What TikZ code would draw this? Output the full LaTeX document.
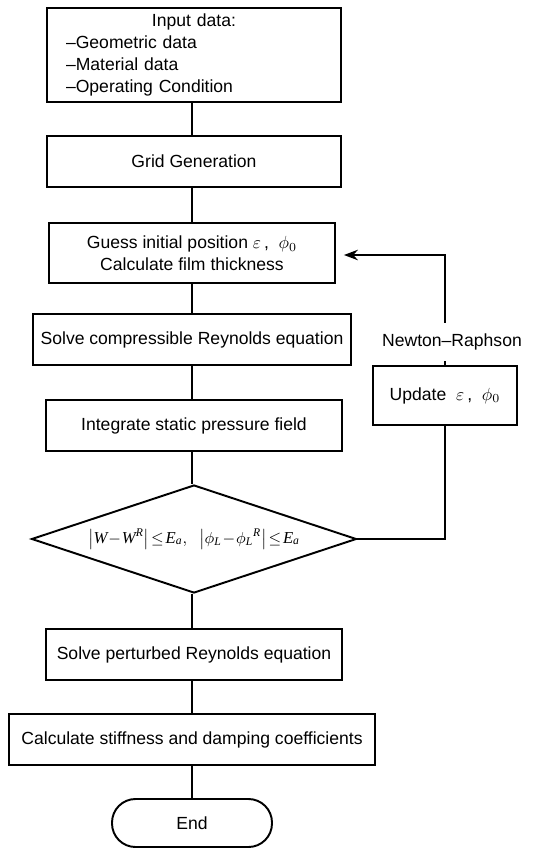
\documentclass[tikz,border=0pt]{standalone}
\usepackage{amsmath, amssymb}
\usepackage{fontspec}
\setmainfont{Liberation Sans}
\newfontfamily\tms{Liberation Serif}
\newcommand{\vi}[1]{\text{\tms\itshape #1}}
\usepackage{tikz}
\usetikzlibrary{arrows.meta, positioning, calc, shapes.geometric}

\begin{document}
\begin{tikzpicture}[x=0.02cm, y=-0.02cm, >=Stealth, line width=1.1pt,
      every node/.style={font=\fontsize{10}{12.4}\selectfont},
      box/.style={draw, rectangle, inner sep=0pt, minimum height=1.02cm}]
    \useasboundingbox (0,0) rectangle (532,849);
    \node[box, minimum width=5.88cm, minimum height=1.88cm, text width=5.12cm,
      align=left] (input) at (194,55)
      {\makebox[5.12cm]{Input data:}\\ \textendash Geometric data\\
       \textendash Material data\\ \textendash Operating Condition};
    \node[box, minimum width=5.88cm] (grid) at (194,161.5) {Grid Generation};
    \node[box, minimum width=5.72cm, minimum height=1.2cm, align=center]
      (guess) at (192,253)
      {Guess initial position $\varepsilon$\,,\ \ $\phi_{0}$\\
       Calculate film thickness};
    \node[box, minimum width=6.36cm] (solve) at (192,339.5)
      {Solve compressible Reynolds equation};
    \node[box, minimum width=5.92cm] (integ) at (194,425.5)
      {Integrate static pressure field};
    \node[draw, diamond, aspect=3, inner sep=0pt, minimum width=6.5cm,
      minimum height=2.16cm,
      label={[font=\fontsize{9.5}{12}\selectfont]center:%
        $\bigl|\vi{W}\!-\!\vi{W}^{\vi{R}}\bigr|\!\le\! \vi{E}_{\vi{a}},\ \
         \bigl|\phi_{\vi{L}}\!-\!\phi_{\vi{L}}{}^{\vi{R}}\bigr|\!\le\!
         \vi{E}_{\vi{a}}$}]
      (conv) at (194,539) {};
    \node[box, minimum width=5.92cm] (pert) at (194,654.5)
      {Solve perturbed Reynolds equation};
    \node[box, minimum width=7.32cm] (coef) at (192,739.5)
      {Calculate stiffness and damping coefficients};
    \node[draw, rectangle, rounded corners=0.47cm, minimum width=3.2cm,
      minimum height=0.96cm] (end) at (192,823) {End};
    \node[box, minimum width=2.88cm, minimum height=1.18cm] (upd) at (445,395.5)
      {Update\ \ $\varepsilon$\,,\ \ $\phi_{0}$};
    \coordinate (back) at (445,255);
    \foreach \a/\b in {input/grid,grid/guess,guess/solve,solve/integ,
      integ/conv,conv/pert,pert/coef,coef/end}{
      \draw (\a.south -| 192,0) -- (\b.north -| 192,0);
    }
    \draw (conv.east) -- (conv.east -| upd) -- (upd.south);
    \draw[->, shorten >=0.16cm] (upd.north) -- (back) -- (back -| guess.east);
    \node[fill=white, inner xsep=1pt, inner ysep=6pt] (nr) at (452,342)
      {Newton\textendash Raphson};
  \end{tikzpicture}
\end{document}
